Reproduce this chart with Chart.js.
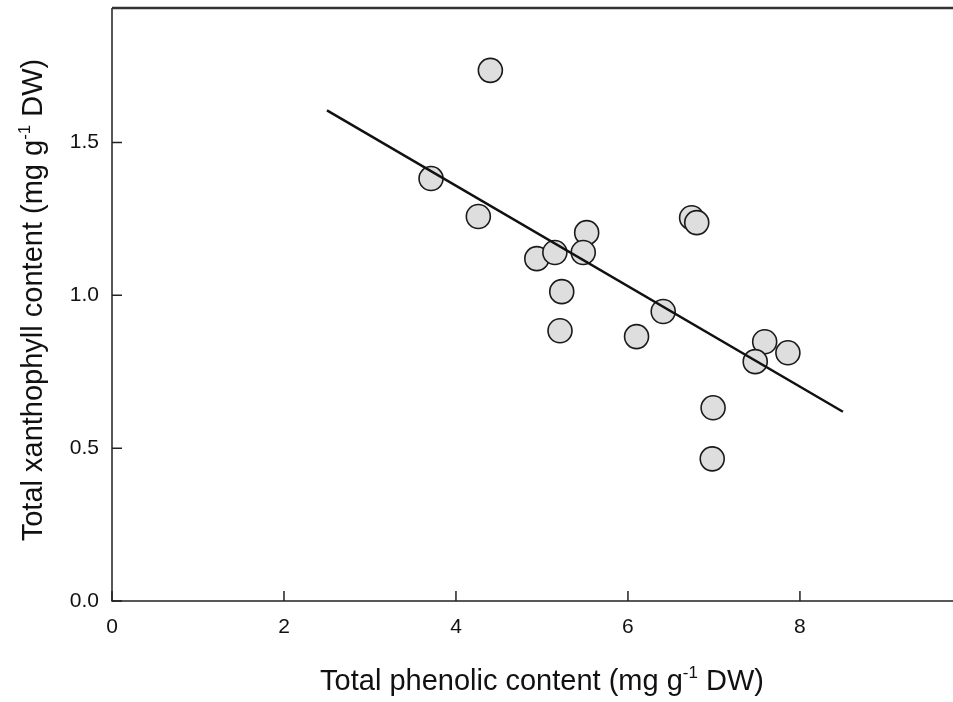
<!DOCTYPE html>
<html>
<head>
<meta charset="utf-8">
<script src="https://cdn.jsdelivr.net/npm/chart.js@4.4.0/dist/chart.umd.min.js"></script>
<style>
  html, body { margin: 0; padding: 0; background: #fff; }
  #wrap { width: 953px; height: 702px; }
</style>
</head>
<body>
<div id="wrap"><canvas id="chart" width="953" height="702"></canvas></div>
<script>
// values
const phenolic = [4.40, 3.71, 4.26, 4.94, 5.15, 5.52, 5.48, 5.23, 5.21, 6.10, 6.74, 6.80, 6.41, 7.59, 7.86, 7.48, 6.99, 6.98];
const xanthophyll = [1.736, 1.382, 1.258, 1.120, 1.140, 1.205, 1.140, 1.012, 0.884, 0.865, 1.254, 1.238, 0.947, 0.848, 0.812, 0.783, 0.632, 0.465];
const fitX = [2.5, 8.5];
const fitY = [1.605, 0.619];
const xTitle = ['Total phenolic content (mg g', '-1', ' DW)'];
const yTitle = ['Total xanthophyll content (mg g', '-1', ' DW)'];

const FONT = '"Liberation Sans", Arial, sans-serif';

function drawTitle(ctx, parts, x, y, angle) {
    ctx.save();
    ctx.translate(x, y);
    ctx.rotate(angle);
    ctx.fillStyle = '#111';
    ctx.textBaseline = 'alphabetic';
    ctx.textAlign = 'left';
    const big = '29px ' + FONT, small = '17px ' + FONT;
    ctx.font = big; const w0 = ctx.measureText(parts[0]).width;
    ctx.font = small; const w1 = ctx.measureText(parts[1]).width;
    ctx.font = big; const w2 = ctx.measureText(parts[2]).width;
    let cx = -(w0 + w1 + w2) / 2;
    ctx.font = big; ctx.fillText(parts[0], cx, 0); cx += w0;
    ctx.font = small; ctx.fillText(parts[1], cx, -12); cx += w1;
    ctx.font = big; ctx.fillText(parts[2], cx, 0);
    ctx.restore();
}

const framePlugin = {
    id: 'frame',
    afterDraw(chart) {
        const {ctx, chartArea: a, scales: {x, y}} = chart;
        ctx.save();
        ctx.strokeStyle = '#222';
        ctx.lineWidth = 1.5;
        ctx.beginPath();
        ctx.moveTo(a.left, a.top);
        ctx.lineTo(a.left, a.bottom);
        ctx.lineTo(a.right, a.bottom);
        ctx.stroke();
        ctx.lineWidth = 2.5;
        ctx.strokeStyle = '#333';
        ctx.beginPath();
        ctx.moveTo(a.left, a.top);
        ctx.lineTo(a.right, a.top);
        ctx.stroke();
        ctx.lineWidth = 1.5;
        ctx.strokeStyle = '#222';
        ctx.beginPath();
        x.ticks.forEach(t => {
            const px = x.getPixelForValue(t.value);
            ctx.moveTo(px, a.bottom);
            ctx.lineTo(px, a.bottom - 10);
        });
        y.ticks.forEach(t => {
            const py = y.getPixelForValue(t.value);
            ctx.moveTo(a.left, py);
            ctx.lineTo(a.left + 10, py);
        });
        ctx.stroke();
        ctx.restore();
        drawTitle(ctx, xTitle, 542, 690, 0);
        drawTitle(ctx, yTitle, 42, 300, -Math.PI / 2);
    }
};

new Chart(document.getElementById('chart'), {
    type: 'scatter',
    data: {
        datasets: [
            {
                type: 'line',
                data: fitX.map((v, i) => ({x: v, y: fitY[i]})),
                borderColor: '#111',
                borderWidth: 2.5,
                pointRadius: 0,
                fill: false,
                order: 0
            },
            {
                data: phenolic.map((v, i) => ({x: v, y: xanthophyll[i]})),
                backgroundColor: '#dedede',
                borderColor: '#1a1a1a',
                borderWidth: 1.6,
                pointRadius: 12,
                pointHoverRadius: 12,
                order: 1
            }
        ]
    },
    options: {
        responsive: false,
        animation: false,
        events: [],
        layout: { autoPadding: false, padding: { top: 8, right: 0, left: 0, bottom: 0 } },
        plugins: { legend: { display: false }, tooltip: { enabled: false } },
        scales: {
            x: {
                type: 'linear',
                min: 0,
                max: 9.78,
                grid: { display: false, drawTicks: false, tickLength: 0 },
                border: { display: false },
                ticks: {
                    stepSize: 2,
                    includeBounds: false,
                    padding: 14,
                    color: '#111',
                    font: { family: FONT, size: 21 },
                    callback: v => v.toFixed(0)
                },
                afterFit: s => { s.height = 101; s.paddingLeft = 0; s.paddingRight = 0; }
            },
            y: {
                type: 'linear',
                min: 0,
                max: 1.94,
                grid: { display: false, drawTicks: false, tickLength: 0 },
                border: { display: false },
                ticks: {
                    stepSize: 0.5,
                    includeBounds: false,
                    padding: 13,
                    color: '#111',
                    font: { family: FONT, size: 21 },
                    callback: v => v.toFixed(1)
                },
                afterFit: s => { s.width = 112; s.paddingTop = 0; s.paddingBottom = 0; }
            }
        }
    },
    plugins: [framePlugin]
});
</script>
</body>
</html>
